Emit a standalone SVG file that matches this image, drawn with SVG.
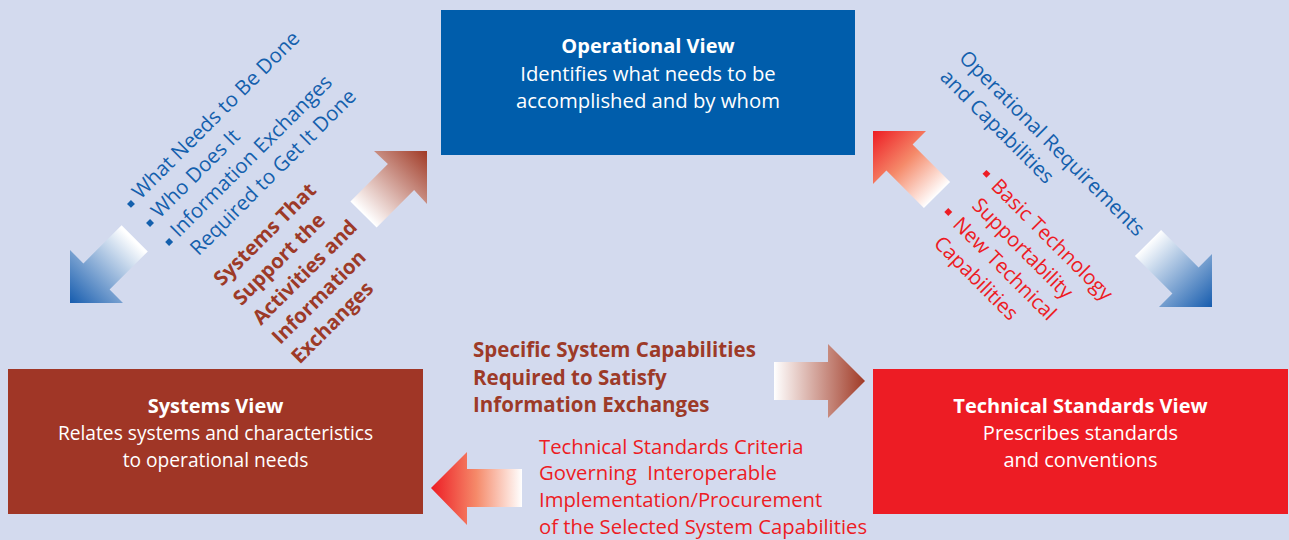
<svg xmlns="http://www.w3.org/2000/svg" width="1289" height="540" viewBox="0 0 1289 540">
<style>
text{font-family:"Open Sans","Noto Sans","Liberation Sans",sans-serif;font-size:20px}
.w{fill:#ffffff;text-anchor:middle}
.b{font-weight:bold}
.blue{fill:#1460ad}
.brown{fill:#9d3a28;font-weight:bold}
.red{fill:#ed1c24}
.bb{fill:#1460ad}
.rb{fill:#ed1c24}
</style>
<defs>
<linearGradient id="gBrR" gradientUnits="userSpaceOnUse" x1="774" y1="0" x2="865" y2="0"><stop offset="0" stop-color="#ffffff"/><stop offset="1" stop-color="#a03a26"/></linearGradient>
<linearGradient id="gRdL" gradientUnits="userSpaceOnUse" x1="431" y1="0" x2="522" y2="0"><stop offset="0" stop-color="#ed1c24"/><stop offset="0.5" stop-color="#f58a6a"/><stop offset="1" stop-color="#ffffff"/></linearGradient>
<linearGradient id="gBrUR" gradientUnits="userSpaceOnUse" x1="364" y1="214" x2="427" y2="151"><stop offset="0" stop-color="#ffffff"/><stop offset="1" stop-color="#a03a26"/></linearGradient>
<linearGradient id="gBlDL" gradientUnits="userSpaceOnUse" x1="133" y1="240" x2="70" y2="303"><stop offset="0" stop-color="#ffffff"/><stop offset="1" stop-color="#165cae"/></linearGradient>
<linearGradient id="gRdUL" gradientUnits="userSpaceOnUse" x1="937" y1="195" x2="873" y2="131"><stop offset="0" stop-color="#ffffff"/><stop offset="0.5" stop-color="#f58a6a"/><stop offset="1" stop-color="#ed1c24"/></linearGradient>
<linearGradient id="gBlDR" gradientUnits="userSpaceOnUse" x1="1148" y1="243" x2="1212" y2="307"><stop offset="0" stop-color="#ffffff"/><stop offset="1" stop-color="#165cae"/></linearGradient>
</defs>
<rect x="0" y="0" width="1289" height="540" fill="#d3daee"/>

<g id="operational-view">
<rect x="441" y="10" width="414" height="145" fill="#005dab"/>
<text class="w b" x="648" y="53">Operational View</text>
<text class="w" x="648" y="81" style="font-size:20.3px">Identifies what needs to be</text>
<text class="w" x="648" y="107.5" style="font-size:20.3px">accomplished and by whom</text>
</g>

<g id="systems-view">
<rect x="8" y="369" width="415" height="145" fill="#a03626"/>
<text class="w b" x="215.5" y="413">Systems View</text>
<text class="w" x="215.5" y="440" style="font-size:19.2px">Relates systems and characteristics</text>
<text class="w" x="215.5" y="467" style="font-size:19.2px">to operational needs</text>
</g>

<g id="technical-standards-view">
<rect x="873" y="369" width="415" height="145" fill="#ed1c24"/>
<text class="w b" x="1080.5" y="413">Technical Standards View</text>
<text class="w" x="1080.5" y="440">Prescribes standards</text>
<text class="w" x="1080.5" y="467">and conventions</text>
</g>

<g id="connectors">
<polygon points="427,151 427,204 414.1,190.1 376.6,227.6 350.4,201.4 387.9,163.9 374,151" fill="url(#gBrUR)"/>
<polygon points="70,303 70,250 83.4,263.4 121.6,225.2 147.8,251.4 109.6,289.6 123,303" fill="url(#gBlDL)"/>
<polygon points="873,131 926,131 912.6,144.4 950.1,181.9 923.9,208.1 886.4,170.6 873,184" fill="url(#gRdUL)"/>
<polygon points="1212,307 1212,254 1198.6,267.4 1161.1,229.9 1134.9,256.1 1172.4,293.6 1159,307" fill="url(#gBlDR)"/>
<polygon points="774,362 828,362 828,344 865,381 828,418 828,400 774,400" fill="url(#gBrR)"/>
<polygon points="431,488 467,452 467,469 522,469 522,507 467,507 467,525" fill="url(#gRdL)"/>
</g>

<g id="label-op-needs" transform="translate(140.5,200) rotate(-45)">
<rect class="bb" x="-12.3" y="-6.8" width="5.6" height="5.6"/>
<rect class="bb" x="-12.3" y="20.2" width="5.6" height="5.6"/>
<rect class="bb" x="-12.3" y="47.2" width="5.6" height="5.6"/>
<text class="blue" style="font-size:20.4px"><tspan x="0" y="0">What Needs to Be Done</tspan><tspan x="0" y="27">Who Does It</tspan><tspan x="0" y="54">Information Exchanges</tspan><tspan x="1" y="81">Required to Get It Done</tspan></text>
</g>

<g id="label-systems-support" transform="translate(222,287) rotate(-45)">
<text class="brown" style="font-size:20.3px"><tspan x="0" y="0">Systems That</tspan><tspan x="0" y="27.5">Support the</tspan><tspan x="0" y="55">Activities and</tspan><tspan x="0" y="82.5">Information</tspan><tspan x="0" y="110">Exchanges</tspan></text>
</g>

<g id="label-op-req" transform="translate(958,59) rotate(45)">
<text class="blue" style="font-size:20.4px"><tspan x="0" y="0">Operational Requirements</tspan><tspan x="0" y="27">and Capabilities</tspan></text>
</g>

<g id="label-tech" transform="translate(990,187.3) rotate(45)">
<rect class="rb" x="-14.8" y="-9.8" width="5.6" height="5.6"/>
<rect class="rb" x="-14.8" y="44.2" width="5.6" height="5.6"/>
<text class="red" style="font-size:20.3px"><tspan x="0" y="0">Basic Technology</tspan><tspan x="0" y="27">Supportability</tspan><tspan x="0" y="54">New Technical</tspan><tspan x="0" y="81">Capabilities</tspan></text>
</g>

<g id="label-specific">
<text class="brown" style="font-size:20.5px"><tspan x="473" y="357">Specific System Capabilities</tspan><tspan x="473" y="384.5">Required to Satisfy</tspan><tspan x="473" y="412">Information Exchanges</tspan></text>
</g>

<g id="label-criteria">
<text class="red" xml:space="preserve" style="font-size:20.3px"><tspan x="539" y="453.5">Technical Standards Criteria</tspan><tspan x="539" y="480.3">Governing  Interoperable</tspan><tspan x="539" y="507">Implementation/Procurement</tspan><tspan x="539" y="534">of the Selected System Capabilities</tspan></text>
</g>
</svg>
